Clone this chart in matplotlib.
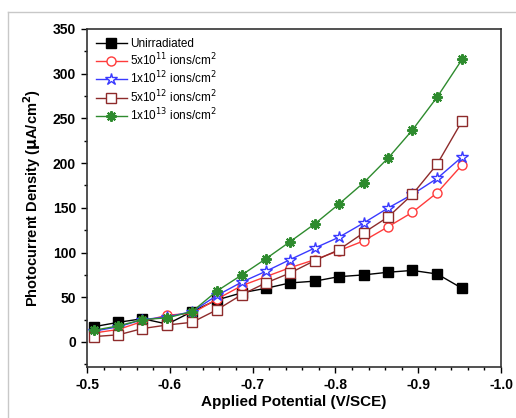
import numpy as np
import matplotlib.pyplot as plt
from matplotlib.lines import Line2D
from matplotlib.ticker import MultipleLocator

plt.rcParams['font.family'] = ['Liberation Sans', 'DejaVu Sans']

# applied potential (V/SCE)
potential = [-0.508, -0.538, -0.567, -0.597, -0.627, -0.657, -0.687, -0.716,
             -0.745, -0.775, -0.804, -0.834, -0.864, -0.893, -0.923, -0.953]

unirradiated = [17, 22, 26, 20, 34, 47, 55, 60, 66, 68, 73, 75, 78, 80, 76, 60]
dose_5e11 = [10, 14, 23, 30, 32, 48, 63, 73, 83, 92, 102, 113, 129, 145, 167, 198]
dose_1e12 = [12, 17, 25, 28, 34, 52, 67, 79, 92, 105, 117, 133, 150, 165, 183, 207]
dose_5e12 = [6, 8, 15, 19, 22, 36, 53, 66, 77, 91, 103, 122, 140, 165, 199, 247]
dose_1e13 = [13, 18, 25, 27, 34, 57, 75, 93, 112, 132, 154, 178, 206, 237, 274, 316]

labels = ['Unirradiated',
          r'5x10$^{11}$ ions/cm$^2$',
          r'1x10$^{12}$ ions/cm$^2$',
          r'5x10$^{12}$ ions/cm$^2$',
          r'1x10$^{13}$ ions/cm$^2$']

fig = plt.figure(figsize=(5.16, 4.18), dpi=100)
ax = fig.add_axes([87/516, 1-367/418, (501-87)/516, (367-29)/418])

# thin grey frame of the original figure
fig.add_artist(Line2D([8/516, 8/516], [0, 1-12/418], color='#c8c8c8', lw=1))
fig.add_artist(Line2D([8/516, 1], [1-12/418, 1-12/418], color='#c8c8c8', lw=1))

ax.plot(potential, unirradiated, '-s', color='black', lw=1, ms=6.5,
        mfc='black', label=labels[0])
ax.plot(potential, dose_5e11, '-o', color='#ff3b3b', lw=1, ms=6.5,
        mfc='white', mew=1, label=labels[1])
ax.plot(potential, dose_1e12, '-*', color='#3a3aff', lw=1, ms=9,
        mfc='white', mew=1, label=labels[2])
ax.plot(potential, dose_5e12, '-s', color='#8e2b2b', lw=1, ms=6.5,
        mfc='white', mew=1, label=labels[3])
ax.plot(potential, dose_1e13, '-', color='#2e8b2e', lw=1, marker=(8, 2, 0),
        ms=7.5, mew=1.5, label=labels[4])

ax.set_xlim(-0.5, -1.0)
ax.set_ylim(-28, 350)
ax.xaxis.set_major_locator(MultipleLocator(0.1))
ax.xaxis.set_minor_locator(MultipleLocator(0.02))
ax.yaxis.set_major_locator(MultipleLocator(50))
ax.yaxis.set_minor_locator(MultipleLocator(25))
ax.xaxis.set_major_formatter(plt.FuncFormatter(lambda v, p: '%.1f' % v))

ax.tick_params(which='both', direction='out', top=False, right=False)
ax.tick_params(which='major', length=4, width=1, labelsize=10, pad=4)
ax.tick_params(which='minor', length=2.5, width=1)
for t in ax.get_xticklabels() + ax.get_yticklabels():
    t.set_fontweight('bold')
for s in ax.spines.values():
    s.set_linewidth(1.2)
    s.set_color('#333333')

ax.set_xlabel('Applied Potential (V/SCE)', fontsize=11, fontweight='bold', labelpad=2)
ax.set_ylabel(r'Photocurrent Density ($\mathbf{\mu}$A/cm$^\mathbf{2}$)',
              fontsize=10.5, fontweight='bold', labelpad=7)

ax.legend(loc='upper left', frameon=False, fontsize=8.5, handlelength=2.6,
          handletextpad=0.3, labelspacing=0.15, borderaxespad=0.35,
          bbox_to_anchor=(0.0, 1.0))

fig.savefig('out.png', dpi=100)
